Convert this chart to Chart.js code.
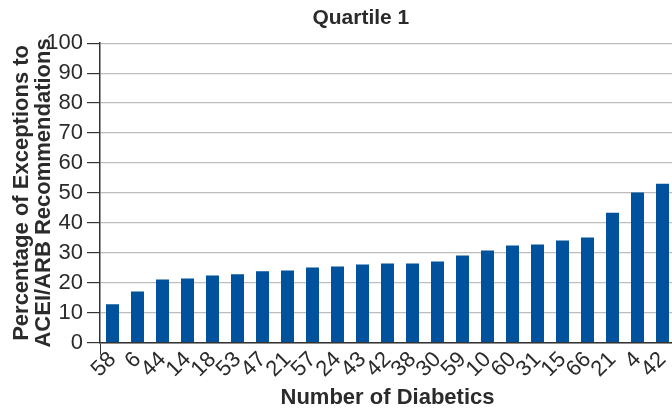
<!DOCTYPE html>
<html>
<head>
<meta charset="utf-8">
<script src="https://cdn.jsdelivr.net/npm/chart.js@4.4.1/dist/chart.umd.min.js"></script>
<style>
  html, body { margin: 0; padding: 0; background: #fff; overflow: hidden; }
  #wrap { width: 676px; height: 411px; position: relative; }
</style>
</head>
<body>
<div id="wrap"><canvas id="quartileChart"></canvas></div>
<script>
// Quartile 1 - exceptions to ACEI/ARB recommendations per practice
const diabeticCounts = ['58', '6', '44', '14', '18', '53', '47', '21', '57', '24', '43', '42',
  '38', '30', '59', '10', '60', '31', '15', '66', '21', '4', '42'];
const exceptionPct = [12.8, 17.1, 21.1, 21.4, 22.4, 22.8, 23.8, 24.1, 25.1, 25.4, 26.1, 26.4,
  26.4, 27.1, 29.1, 30.8, 32.4, 32.8, 34.1, 35.1, 43.4, 50.1, 53.1];
const yTicks = [0, 10, 20, 30, 40, 50, 60, 70, 80, 90, 100];

const textColor = '#2b2b2b';
const tickFont = { family: 'Liberation Sans, Arial, sans-serif', size: 22 };
const titleFont = { family: 'Liberation Sans, Arial, sans-serif', size: 22, weight: 'bold' };

const ctx = document.getElementById('quartileChart');
new Chart(ctx.getContext('2d'), {
  type: 'bar',
  data: {
    labels: diabeticCounts,
    datasets: [{
      label: 'Exceptions (%)',
      data: exceptionPct,
      backgroundColor: '#00529c',
      borderWidth: 0,
      barPercentage: 0.52,
      categoryPercentage: 1
    }]
  },
  options: {
    responsive: true,
    maintainAspectRatio: false,
    animation: false,
    layout: { padding: { left: 0, right: 1, top: 0, bottom: 0 } },
    plugins: {
      legend: { display: false },
      tooltip: { enabled: false },
      title: {
        display: true,
        text: '        Quartile 1',
        color: textColor,
        font: { ...titleFont, size: 21 },
        padding: { top: 6, bottom: 12 }
      }
    },
    scales: {
      x: {
        offset: true,
        grid: {
          display: true,
          drawOnChartArea: false,
          offset: true,
          tickLength: 12,
          tickColor: c => c.index === 0 ? '#333' : 'rgba(0,0,0,0)'
        },
        border: { color: '#333', width: 1.5 },
        ticks: {
          color: textColor,
          font: tickFont,
          minRotation: 45,
          maxRotation: 45,
          autoSkip: false,
          padding: -8
        },
        title: {
          display: true,
          text: 'Number of Diabetics',
          color: textColor,
          font: titleFont,
          padding: { top: 10, bottom: 0 }
        }
      },
      y: {
        min: 0,
        max: 100,
        afterBuildTicks: axis => { axis.ticks = yTicks.map(v => ({ value: v })); },
        // fixed width so the axis title can sit next to the tick labels, as in the original
        afterFit: axis => { axis.width = 100; },
        grid: {
          color: '#bdbdbd',
          lineWidth: 1.2,
          tickLength: 13,
          tickColor: '#333'
        },
        border: { color: '#333', width: 1.5 },
        ticks: {
          color: textColor,
          font: tickFont,
          padding: 4
        },
        title: {
          display: true,
          text: ['Percentage of Exceptions to', 'ACEI/ARB Recommendations'],
          color: textColor,
          font: { ...titleFont, lineHeight: 1.0 },
          padding: { top: 11, bottom: 0 }
        }
      }
    }
  }
});
</script>
</body>
</html>
